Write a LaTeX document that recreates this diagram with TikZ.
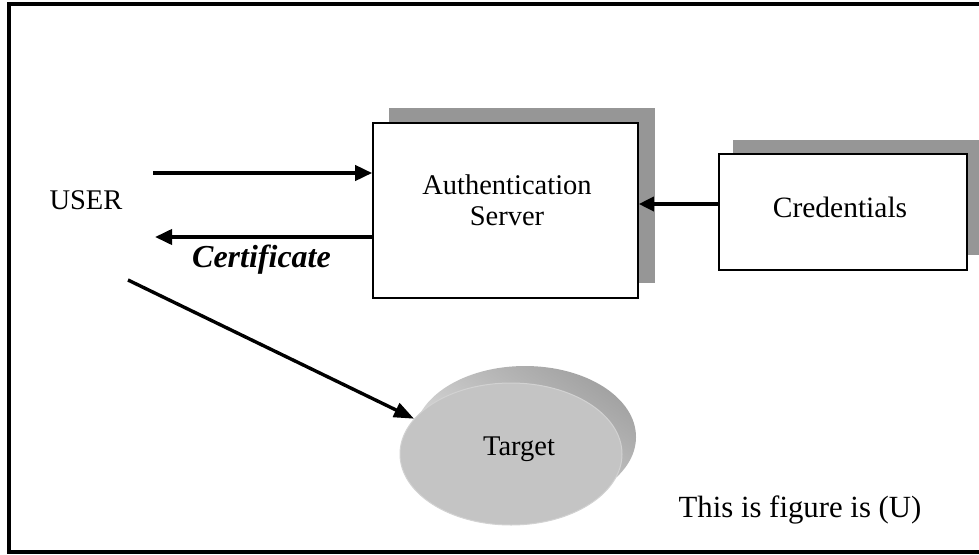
\documentclass[tikz,border=0pt]{standalone}
\usepackage{fontspec}
\setmainfont{Liberation Serif}
\usetikzlibrary{arrows.meta,shapes.geometric}
\definecolor{shadowgray}{HTML}{969696}
\definecolor{discfront}{HTML}{C4C4C4}
\definecolor{discrim}{HTML}{D2D2D2}
\definecolor{discdark}{HTML}{A2A2A2}
\definecolor{disclight}{HTML}{E6E6E6}
\tikzset{
  txt/.style={font=\fontsize{28.5}{31}\selectfont, inner sep=0pt},
  box/.style={draw=black, line width=1.6pt, fill=white, inner sep=0pt, rectangle},
  boxshadow/.style={fill=shadowgray, draw=none},
  flow/.style={line width=3.8pt, -{Triangle[length=17pt,width=15pt]}},
  thinflow/.style={line width=3.4pt, -{Triangle[length=15pt,width=14pt]}},
}
\begin{document}
\begin{tikzpicture}[x=1pt,y=-1pt]
  \clip (0,0) rectangle (979,554);
  \fill[white] (0,0) rectangle (979,554);
  % outer frame, right side runs off the page
  \draw[line width=4pt] (990,4) -- (9,4) -- (9,552) -- (990,552);

  % drop shadows
  \fill[boxshadow] (389,108) rectangle (655,283);
  \fill[boxshadow] (733,140) rectangle (990,255);

  % boxes
  \node[box, minimum width=265pt, minimum height=175pt] (auth) at (505.5,210.5) {};
  \node[txt, align=center, anchor=base] (authtext) at (507,225) {Authentication\\Server};
  \node[box, minimum width=248pt, minimum height=116pt] (cred) at (843,212) {};
  \node[txt, anchor=base, font=\fontsize{29.5}{32}\selectfont] (credtext) at (840,217) {Credentials};

  % user
  \node[txt, anchor=base] (user) at (86,209) {USER};
  \coordinate (userin) at (153,173);
  \coordinate (userout) at (155,237);
  \coordinate (userdiag) at (128,280);

  % target disc
  \shade[top color=discdark, bottom color=disclight, shading angle=-35] (525,437) ellipse (111 and 71);
  \node[ellipse, fill=discfront, draw=discrim, line width=1pt, minimum width=222pt, minimum height=142pt, inner sep=0pt] (target) at (511,454) {};
  \node[txt, anchor=base] (targettext) at (519,455) {Target};

  % connectors
  \draw[flow] (userin) -- (userin -| auth.west);
  \draw[flow] (userout -| auth.west) -- (userout);
  \node[txt, anchor=base, font=\fontsize{32}{34}\selectfont\bfseries\itshape] (cert) at (261.5,267) {Certificate};
  \draw[thinflow] (cred.west |- 0,204) -- (auth.east |- 0,204);
  \draw[flow, line width=3.4pt, -{Triangle[length=20pt,width=15pt]}] (userdiag) -- (target.160);

  \node[txt, anchor=base, font=\fontsize{30.8}{33}\selectfont] (caption) at (800,517) {This is figure is (U)};
\end{tikzpicture}
\end{document}
